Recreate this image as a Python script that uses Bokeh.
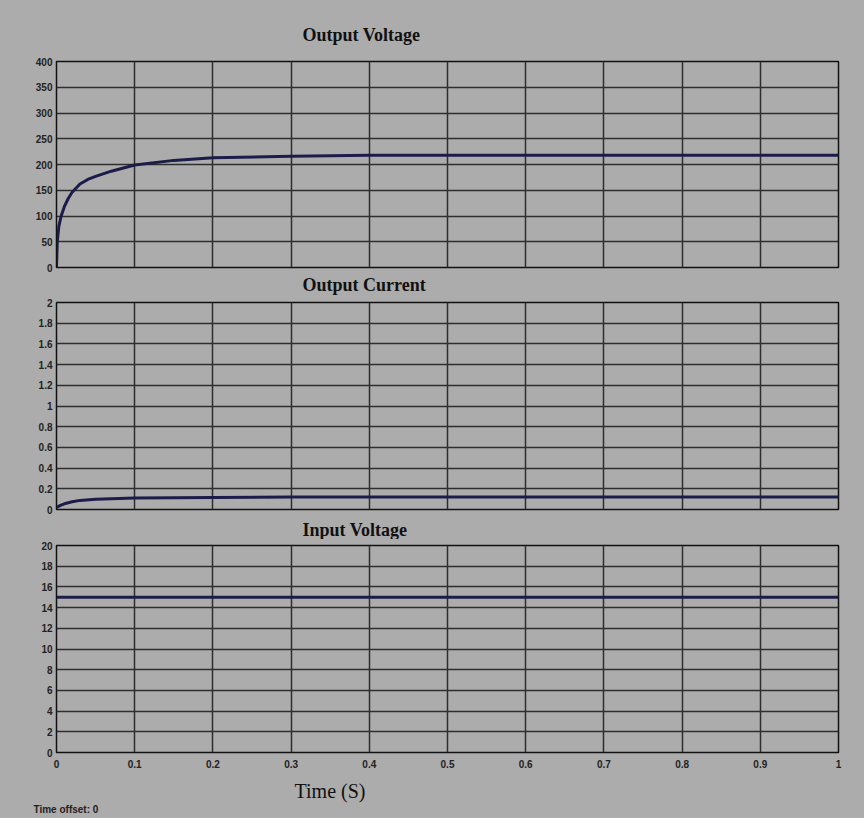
from bokeh.plotting import figure
from bokeh.layouts import column
from bokeh.models import Range1d, FixedTicker, Title
from bokeh.embed import file_html
from bokeh.resources import INLINE

# ---- data ----
t_vout = [0, 0.001, 0.003, 0.006, 0.01, 0.015, 0.02, 0.03, 0.04, 0.05, 0.07, 0.1, 0.15, 0.2, 0.3, 0.4, 0.5, 0.6, 0.7, 0.8, 0.9, 1.0]
v_out = [0, 50, 80, 100, 118, 134, 146, 162, 171, 177, 187, 199, 208, 213, 216, 218, 218, 218, 218, 218, 218, 218]

t_iout = [0, 0.005, 0.01, 0.02, 0.03, 0.05, 0.07, 0.1, 0.2, 0.3, 0.5, 0.7, 1.0]
i_out = [0.02, 0.04, 0.055, 0.075, 0.088, 0.1, 0.105, 0.11, 0.115, 0.12, 0.12, 0.12, 0.12]

t_vin = [0, 1.0]
v_in = [15, 15]

x_ticks = [0, 0.1, 0.2, 0.3, 0.4, 0.5, 0.6, 0.7, 0.8, 0.9, 1.0]
y1_ticks = [0, 50, 100, 150, 200, 250, 300, 350, 400]
y2_ticks = [0, 0.2, 0.4, 0.6, 0.8, 1.0, 1.2, 1.4, 1.6, 1.8, 2.0]
y3_ticks = [0, 2, 4, 6, 8, 10, 12, 14, 16, 18, 20]

titles = ["Output Voltage", "Output Current", "Input Voltage"]
x_label = "Time (S)"
offset_label = "Time offset: 0"

BG = "#acacac"
GRID = "#2e2e2e"
LINE = "#1c1c4a"
LEFT = 56
FRAME_W = 782
RIGHT = 26
W = LEFT + FRAME_W + RIGHT


def pad(l=0, r=0, t=0, b=0):
    return dict(left=l, right=r, top=t, bottom=b)


def title(text, font="Liberation Serif", size="18px", style="bold", off=246, padding=None, color="#111111"):
    return Title(text=text, align="left", offset=off, standoff=0,
                 text_font=font, text_font_size=size, text_font_style=style,
                 text_color=color, padding=padding or pad())


def make_panel(tx, ty, yticks, ymax, top, fheight, bottom, show_x=False):
    p = figure(width=W, height=top + fheight + bottom, output_backend="svg",
               toolbar_location=None, x_range=Range1d(0, 1), y_range=Range1d(0, ymax),
               min_border_left=LEFT, min_border_right=RIGHT,
               min_border_top=top, min_border_bottom=bottom,
               background_fill_color=BG, border_fill_color=BG,
               outline_line_color="#111111", outline_line_width=1.5)
    p.line(tx, ty, line_color=LINE, line_width=3)
    p.xaxis.ticker = FixedTicker(ticks=x_ticks)
    p.yaxis.ticker = FixedTicker(ticks=yticks)
    for ax in [p.xaxis[0], p.yaxis[0]]:
        ax.major_tick_line_color = None
        ax.minor_tick_line_color = None
        ax.major_tick_out = 0
        ax.major_tick_in = 0
        ax.minor_tick_out = 0
        ax.minor_tick_in = 0
        ax.axis_line_color = "#111111"
        ax.major_label_text_font = "Liberation Sans"
        ax.major_label_text_font_size = "10px"
        ax.major_label_text_font_style = "bold"
        ax.major_label_text_color = "#222222"
    p.yaxis.major_label_standoff = 4
    p.xaxis.major_label_standoff = 7
    p.xaxis.visible = show_x
    p.xgrid.grid_line_color = GRID
    p.ygrid.grid_line_color = GRID
    p.xgrid.grid_line_width = 1.5
    p.ygrid.grid_line_width = 1.5
    return p


p1 = make_panel(t_vout, v_out, y1_ticks, 400, 61, 206, 28)
p2 = make_panel(t_iout, i_out, y2_ticks, 2, 7, 207, 30)
p3 = make_panel(t_vin, v_in, y3_ticks, 20, 6, 207, 66, True)

p1.title = title(titles[0], padding=pad(b=17))
p1.add_layout(title(titles[1], padding=pad(t=5)), "below")
p2.add_layout(title(titles[2], padding=pad(t=8)), "below")

p3.add_layout(title(x_label, size="20px", style="normal", off=238, padding=pad(t=7)), "below")
p3.add_layout(title(offset_label, font="Liberation Sans", size="10px", off=-23,
                    color="#222222"), "below")

layout = column(p1, p2, p3, spacing=0, styles={"background-color": BG})
open("out.html", "w").write(file_html(layout, INLINE))
